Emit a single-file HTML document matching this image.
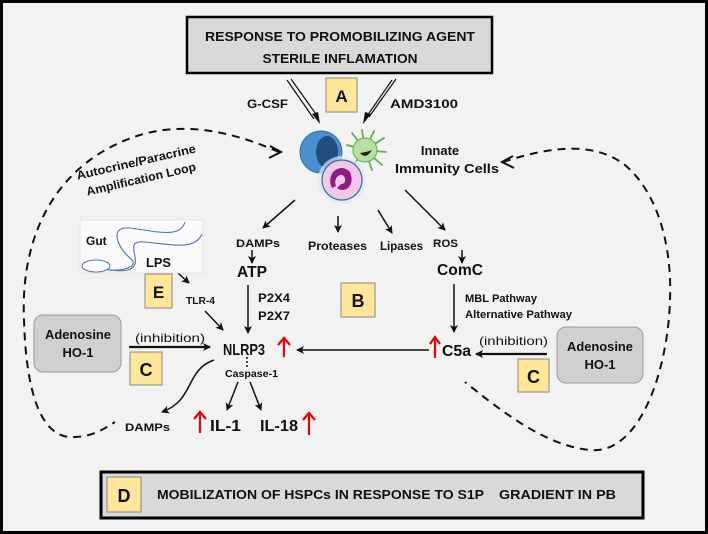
<!DOCTYPE html>
<html><head><meta charset="utf-8"><style>
html,body{margin:0;padding:0;background:#000}
svg{display:block}
text{font-family:"Liberation Sans",sans-serif;font-weight:bold;fill:#111}
</style></head><body>
<svg width="708" height="534" viewBox="0 0 708 534" xmlns="http://www.w3.org/2000/svg">
<defs>
<marker id="ah" markerWidth="8" markerHeight="8" refX="7" refY="4" orient="auto" markerUnits="userSpaceOnUse"><path d="M0,0 L8,4 L0,8 L2,4 Z" fill="#111"/></marker>
</defs>
<rect x="3" y="3" width="702" height="528" fill="#f2f2f2"/>

<rect x="187" y="17" width="305" height="56" fill="#d9d9d9" stroke="#000" stroke-width="2.5"/>
<text x="340" y="41" font-size="13" text-anchor="middle" textLength="270" lengthAdjust="spacingAndGlyphs">RESPONSE TO PROMOBILIZING AGENT</text>
<text x="340" y="63" font-size="13" text-anchor="middle" textLength="155" lengthAdjust="spacingAndGlyphs">STERILE INFLAMATION</text>

<rect x="326" y="78" width="31" height="34" fill="#ffe699" stroke="#888" stroke-width="1"/>
<text x="341.5" y="102" font-size="17" text-anchor="middle">A</text>
<text x="247" y="108" font-size="12" textLength="41" lengthAdjust="spacingAndGlyphs">G-CSF</text>
<text x="390" y="108" font-size="12" textLength="68" lengthAdjust="spacingAndGlyphs">AMD3100</text>
<g stroke="#111" stroke-width="1.2" fill="none">
<line x1="287" y1="80" x2="314" y2="119"/><line x1="291" y1="79" x2="318" y2="117"/>
<line x1="396" y1="79" x2="369" y2="117"/><line x1="392" y1="80" x2="365" y2="119"/>
</g>
<path d="M312,114 L320,124 L318,112 Z" fill="#111"/>
<path d="M371,114 L363,124 L365,112 Z" fill="#111"/>

<g>
<g stroke="#5fb04a" stroke-width="1.8" fill="none" stroke-linecap="round">
<path d="M365,150 L352,133"/><path d="M365,150 L362,130"/><path d="M365,150 L374,131"/><path d="M365,150 L384,138"/><path d="M365,150 L386,152"/><path d="M365,150 L382,165"/><path d="M365,150 L372,170"/><path d="M365,150 L352,167"/><path d="M365,150 L347,145"/>
</g>
<circle cx="365" cy="150" r="12" fill="#b7e0a0" stroke="#5fb04a" stroke-width="1"/>
<path d="M360,153 Q366,160 372,150 Q367,152 360,153 Z" fill="#222"/>
<ellipse cx="321" cy="152" rx="21" ry="21" fill="#4a8fcf" stroke="#2f6da8" stroke-width="1"/>
<ellipse cx="327" cy="152" rx="11" ry="16" fill="#1f4f7d"/>
<circle cx="342" cy="180" r="24" fill="#dde8f4" opacity="0.7"/>
<circle cx="342" cy="180" r="20" fill="#f3c8e6" stroke="#2f6da8" stroke-width="1.2"/>
<path d="M333,172 Q342,164 350,172 Q354,182 348,188 Q342,192 337,188 L341,184 Q346,184 345,178 Q342,172 337,177 Q334,181 336,186 L332,188 Q328,180 333,172 Z" fill="#8e1b86"/>
</g>
<text x="440" y="155" font-size="13" text-anchor="middle">Innate</text>
<text x="447" y="173" font-size="13" text-anchor="middle" textLength="104" lengthAdjust="spacingAndGlyphs">Immunity Cells</text>

<text transform="translate(137,166) rotate(-13)" font-size="12" text-anchor="middle" textLength="122" lengthAdjust="spacingAndGlyphs">Autocrine/Paracrine</text>
<text transform="translate(142,183) rotate(-13)" font-size="12" text-anchor="middle" textLength="112" lengthAdjust="spacingAndGlyphs">Amplification Loop</text>

<g fill="none" stroke="#111" stroke-width="2" stroke-dasharray="8,6">
<path d="M279,152 C240,135 190,120 140,135 C60,160 20,230 24,320 C26,390 40,440 75,437 C95,436 105,428 115,422"/>
<path d="M503,162 C540,150 590,138 625,165 C660,195 672,250 670,300 C668,370 640,455 590,450 C545,446 500,410 465,382"/>
</g>
<path d="M270,146 L281,152 L269,158" fill="none" stroke="#111" stroke-width="2"/>
<path d="M513,156 L502,162 L514,168" fill="none" stroke="#111" stroke-width="2"/>

<g stroke="#111" stroke-width="1.5" marker-end="url(#ah)">
<line x1="295" y1="200" x2="263" y2="228"/>
<line x1="338" y1="216" x2="338" y2="232"/>
<line x1="378" y1="210" x2="392" y2="233"/>
<line x1="405" y1="190" x2="445" y2="230"/>
<line x1="252" y1="250" x2="252" y2="263"/>
<line x1="462" y1="250" x2="462" y2="263"/>
<line x1="248" y1="285" x2="248" y2="333"/>
<line x1="454" y1="284" x2="454" y2="332"/>
<line x1="170" y1="266" x2="189" y2="283"/>
<line x1="205" y1="311" x2="223" y2="330"/>
<line x1="238" y1="382" x2="227" y2="410"/>
<line x1="250" y1="382" x2="261" y2="410"/>
</g>
<text x="236" y="247" font-size="11" textLength="44" lengthAdjust="spacingAndGlyphs">DAMPs</text>
<text x="237" y="277" font-size="16" textLength="30" lengthAdjust="spacingAndGlyphs">ATP</text>
<text x="308" y="250" font-size="12" textLength="59" lengthAdjust="spacingAndGlyphs">Proteases</text>
<text x="380" y="250" font-size="12" textLength="43" lengthAdjust="spacingAndGlyphs">Lipases</text>
<text x="433" y="247" font-size="11" textLength="25" lengthAdjust="spacingAndGlyphs">ROS</text>
<text x="437" y="275" font-size="16" textLength="46" lengthAdjust="spacingAndGlyphs">ComC</text>
<text x="258" y="302" font-size="12" textLength="32" lengthAdjust="spacingAndGlyphs">P2X4</text>
<text x="258" y="320" font-size="12" textLength="32" lengthAdjust="spacingAndGlyphs">P2X7</text>
<text x="465" y="302" font-size="11" textLength="72" lengthAdjust="spacingAndGlyphs">MBL Pathway</text>
<text x="465" y="318" font-size="11" textLength="107" lengthAdjust="spacingAndGlyphs">Alternative Pathway</text>

<rect x="341" y="283" width="34" height="34" fill="#ffe699" stroke="#888" stroke-width="1"/>
<text x="358" y="307" font-size="18" text-anchor="middle">B</text>

<rect x="80" y="220" width="123" height="53" fill="#fafafa" stroke="#e4e4e4" stroke-width="1"/>
<text x="86" y="245" font-size="12">Gut</text>
<g fill="none" stroke="#4a78b0" stroke-width="1.1">
<path d="M185,222 C180,238 160,232 130,228 C108,226 118,248 130,258 C140,266 125,271 108,270"/>
<path d="M202,234 C195,250 175,245 145,242 C125,240 138,255 135,264 C132,272 120,272 104,269"/>
</g>
<ellipse cx="96" cy="266" rx="14" ry="6" fill="#fff" stroke="#4a78b0" stroke-width="1"/>
<text x="146" y="267" font-size="13" textLength="25" lengthAdjust="spacingAndGlyphs">LPS</text>
<rect x="145" y="274" width="27" height="34" fill="#ffe699" stroke="#888" stroke-width="1"/>
<text x="158.5" y="298" font-size="17" text-anchor="middle">E</text>
<text x="186" y="304" font-size="10" textLength="29" lengthAdjust="spacingAndGlyphs">TLR-4</text>

<rect x="34" y="315" width="87" height="57" rx="9" fill="#d0d0d0" stroke="#9a9a9a" stroke-width="1"/>
<text x="78" y="339" font-size="13" text-anchor="middle" textLength="66" lengthAdjust="spacingAndGlyphs">Adenosine</text>
<text x="78" y="357" font-size="13" text-anchor="middle">HO-1</text>
<text x="135" y="342" font-size="12" style="font-weight:normal" textLength="70" lengthAdjust="spacingAndGlyphs">(inhibition)</text>
<line x1="129" y1="347" x2="210" y2="347" stroke="#111" stroke-width="2.2" marker-end="url(#ah)"/>
<rect x="130" y="352" width="32" height="33" fill="#ffe699" stroke="#888" stroke-width="1"/>
<text x="146" y="376" font-size="18" text-anchor="middle">C</text>

<text x="223" y="355" font-size="16" textLength="42" lengthAdjust="spacingAndGlyphs">NLRP3</text>
<line x1="247" y1="357" x2="247" y2="369" stroke="#111" stroke-width="1.5" stroke-dasharray="2,2"/>
<text x="225" y="377" font-size="10" textLength="53" lengthAdjust="spacingAndGlyphs">Caspase-1</text>
<path d="M214,360 C185,370 195,400 162,412" fill="none" stroke="#111" stroke-width="1.5" marker-end="url(#ah)"/>
<text x="125" y="431" font-size="11" textLength="45" lengthAdjust="spacingAndGlyphs">DAMPs</text>
<text x="210" y="431" font-size="16" textLength="31" lengthAdjust="spacingAndGlyphs">IL-1</text>
<text x="260" y="431" font-size="16" textLength="38" lengthAdjust="spacingAndGlyphs">IL-18</text>

<line x1="429" y1="350" x2="297" y2="350" stroke="#111" stroke-width="1.6" marker-end="url(#ah)"/>
<text x="442" y="356" font-size="16" textLength="29" lengthAdjust="spacingAndGlyphs">C5a</text>
<text x="479" y="345" font-size="12" style="font-weight:normal" textLength="69" lengthAdjust="spacingAndGlyphs">(inhibition)</text>
<line x1="547" y1="354" x2="476" y2="354" stroke="#111" stroke-width="2.2" marker-end="url(#ah)"/>
<rect x="518" y="359" width="31" height="33" fill="#ffe699" stroke="#888" stroke-width="1"/>
<text x="533.5" y="383" font-size="18" text-anchor="middle">C</text>
<rect x="557" y="327" width="86" height="56" rx="9" fill="#d0d0d0" stroke="#9a9a9a" stroke-width="1"/>
<text x="600" y="351" font-size="13" text-anchor="middle" textLength="66" lengthAdjust="spacingAndGlyphs">Adenosine</text>
<text x="600" y="369" font-size="13" text-anchor="middle">HO-1</text>

<g fill="none" stroke="#ee0000" stroke-width="2.2">
<line x1="284" y1="357" x2="284" y2="339"/><path d="M278,345 L284,338 L290,345"/>
<line x1="435" y1="358" x2="435" y2="338"/><path d="M430,344 L435,337 L440,344"/>
<line x1="200" y1="433" x2="200" y2="413"/><path d="M194,419 L200,412 L206,419"/>
<line x1="309" y1="435" x2="309" y2="414"/><path d="M303,420 L309,413 L315,420"/>
<line x1="490" y1="502" x2="490" y2="484"/><path d="M485,490 L490,483 L495,490"/>
</g>

<rect x="101" y="472" width="542" height="46" fill="#d9d9d9" stroke="#000" stroke-width="3"/>
<rect x="107" y="477" width="34" height="35" fill="#ffe699" stroke="#888" stroke-width="1"/>
<text x="124" y="502" font-size="18" text-anchor="middle">D</text>
<text x="157" y="499" font-size="13" textLength="327" lengthAdjust="spacingAndGlyphs">MOBILIZATION OF HSPCs IN RESPONSE TO S1P</text>
<text x="499" y="499" font-size="13" textLength="117" lengthAdjust="spacingAndGlyphs">GRADIENT IN PB</text>
</svg>
</body></html>
